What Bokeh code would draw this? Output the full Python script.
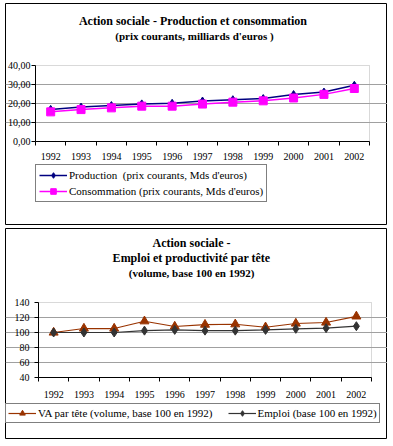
from bokeh.plotting import figure
from bokeh.models import (Range1d, FixedTicker, Label, Legend, LegendItem, LinearAxis,
                          Grid, BoxAnnotation)
from bokeh.layouts import column
from bokeh.embed import file_html
from bokeh.resources import INLINE

# ---------------- data ----------------
years = ["1992", "1993", "1994", "1995", "1996", "1997", "1998", "1999", "2000", "2001", "2002"]

production = [16.9, 18.1, 18.9, 19.8, 20.1, 21.3, 22.0, 22.6, 24.7, 26.0, 29.6]
consommation = [15.6, 16.8, 17.7, 18.6, 18.6, 19.7, 20.7, 21.4, 22.9, 24.8, 27.9]
y1_ticks = [0, 10, 20, 30, 40]
y1_tick_labels = ["0,00", "10,00", "20,00", "30,00", "40,00"]

va_par_tete = [100, 105.3, 105.3, 115.0, 108.0, 110.5, 111.0, 107.0, 112.0, 113.3, 121.5]
emploi = [100, 100, 100, 102.5, 103.5, 102.5, 102.5, 103.5, 104.9, 105.8, 108.4]
y2_ticks = [40, 60, 80, 100, 120, 140]
y2_tick_labels = ["40", "60", "80", "100", "120", "140"]

title1 = ["Action sociale -  Production et consommation",
          "(prix courants, milliards d'euros )"]
title2 = ["Action sociale -",
          "Emploi et productivité par tête",
          "(volume, base 100 en 1992)"]
legend1 = ["Production  (prix courants, Mds d'euros)",
           "Consommation (prix courants, Mds d'euros)"]
legend2 = ["VA par tête (volume, base 100 en 1992)",
           "Emploi (base 100 en 1992)"]

SERIF = "Liberation Serif"
idx = list(range(len(years)))
n = len(years)

st_prod = dict(color="#000080", marker="diamond", size=8, lw=1.5)
st_cons = dict(color="#FF00FF", marker="square", size=8, lw=1.5)
st_va = dict(color="#993300", marker="triangle", size=9, lw=1.2)
st_emp = dict(color="#333333", marker="diamond", size=9, lw=1.2)


def chart(W, H, pa, ymin, ymax, yticks, ylabels, xstand, ystand):
    """pa = pixel box of the plot area inside the figure: (left, right, top, bottom)."""
    left, right, top, bottom = pa
    ux = (right - left) / n
    x0 = -0.5 - left / ux
    uy = (bottom - top) / (ymax - ymin)
    y1 = ymax + top / uy
    p = figure(width=W, height=H, output_backend="svg", toolbar_location=None,
               x_axis_location=None, y_axis_location=None, min_border=0,
               x_range=Range1d(x0, x0 + W / ux), y_range=Range1d(y1 - H / uy, y1))
    p.outline_line_color = "black"
    p.outline_line_width = 1
    p.background_fill_color = "white"
    p.border_fill_color = "white"
    p.grid.visible = False

    box = BoxAnnotation(left=-0.5, right=n - 0.5, bottom=ymin, top=ymax,
                        fill_color=None, line_color="#808080", line_width=1, level="underlay")
    p.add_layout(box)
    p.add_layout(Grid(dimension=1, ticker=FixedTicker(ticks=yticks[1:-1]),
                      bounds=(-0.5, n - 0.5), grid_line_color="#A0A0A0"))

    xa = LinearAxis(fixed_location=ymin, bounds=(-0.5, n - 0.5),
                    ticker=FixedTicker(ticks=idx, minor_ticks=[i - 0.5 for i in range(n + 1)]))
    xa.major_label_overrides = {i: years[i] for i in idx}
    xa.major_tick_out = 0
    xa.major_tick_in = 0
    xa.minor_tick_out = 4
    xa.minor_tick_in = 0
    xa.minor_tick_line_color = "black"
    xa.axis_line_color = "black"
    xa.major_label_text_font = SERIF
    xa.major_label_text_font_size = "10px"
    xa.major_label_text_color = "black"
    xa.major_label_standoff = xstand
    p.add_layout(xa, "below")

    ya = LinearAxis(fixed_location=-0.5, bounds=(ymin, ymax), ticker=FixedTicker(ticks=yticks))
    ya.major_label_overrides = {t: l for t, l in zip(yticks, ylabels)}
    ya.major_tick_out = 4
    ya.major_tick_in = 0
    ya.minor_tick_line_color = None
    ya.axis_line_color = "black"
    ya.major_tick_line_color = "black"
    ya.major_label_text_font = SERIF
    ya.major_label_text_font_size = "10px"
    ya.major_label_text_color = "black"
    ya.major_label_standoff = ystand
    p.add_layout(ya, "left")
    return p


def draw(p, ys, st):
    lr = p.line(idx, ys, line_color=st["color"], line_width=st["lw"])
    sr = p.scatter(idx, ys, marker=st["marker"], size=st["size"],
                   fill_color=st["color"], line_color=st["color"])
    return [lr, sr]


def titles(p, lines, sizes, xc, ys):
    for t, s, y in zip(lines, sizes, ys):
        p.add_layout(Label(x=xc, y=y, x_units="screen", y_units="screen", text=t,
                           text_font=SERIF, text_font_size=s, text_font_style="bold",
                           text_align="center", text_baseline="alphabetic",
                           text_color="black"))


def legend(p, labels, rends, loc, orientation, padding, spacing):
    leg = Legend(items=[LegendItem(label=l, renderers=r) for l, r in zip(labels, rends)],
                 location=loc, orientation=orientation,
                 border_line_color="black", border_line_width=1,
                 background_fill_color="white", background_fill_alpha=1,
                 padding=padding, spacing=spacing, margin=0, glyph_width=28, glyph_height=14,
                 label_height=14, label_standoff=2,
                 label_text_font=SERIF, label_text_font_size="11px", label_text_color="black")
    p.add_layout(leg)


# ---------------- chart 1 ----------------
p1 = chart(382, 222, (30, 364, 62, 138), 0, 40, y1_ticks, y1_tick_labels, 7, 1)
r_prod = draw(p1, production, st_prod)
r_cons = draw(p1, consommation, st_cons)
titles(p1, title1, ["12px", "11px"], 189, [205, 190])
legend(p1, legend1, [r_prod, r_cons], (30, 23), "vertical", 3, 2)

# ---------------- chart 2 ----------------
p2 = chart(382, 211, (33, 366, 74, 149), 40, 140, y2_ticks, y2_tick_labels, 9, 5)
r_va = draw(p2, va_par_tete, st_va)
r_emp = draw(p2, emploi, st_emp)
titles(p2, title2, ["12px", "12px", "11px"], 186, [197, 182, 167])
legend(p2, legend2, [r_va, r_emp], (0, 16), "horizontal", 2, 15)

layout = column(p1, p2, spacing=3, styles={"margin-left": "5px", "margin-top": "3px"})

open("out.html", "w").write(file_html(layout, INLINE))
